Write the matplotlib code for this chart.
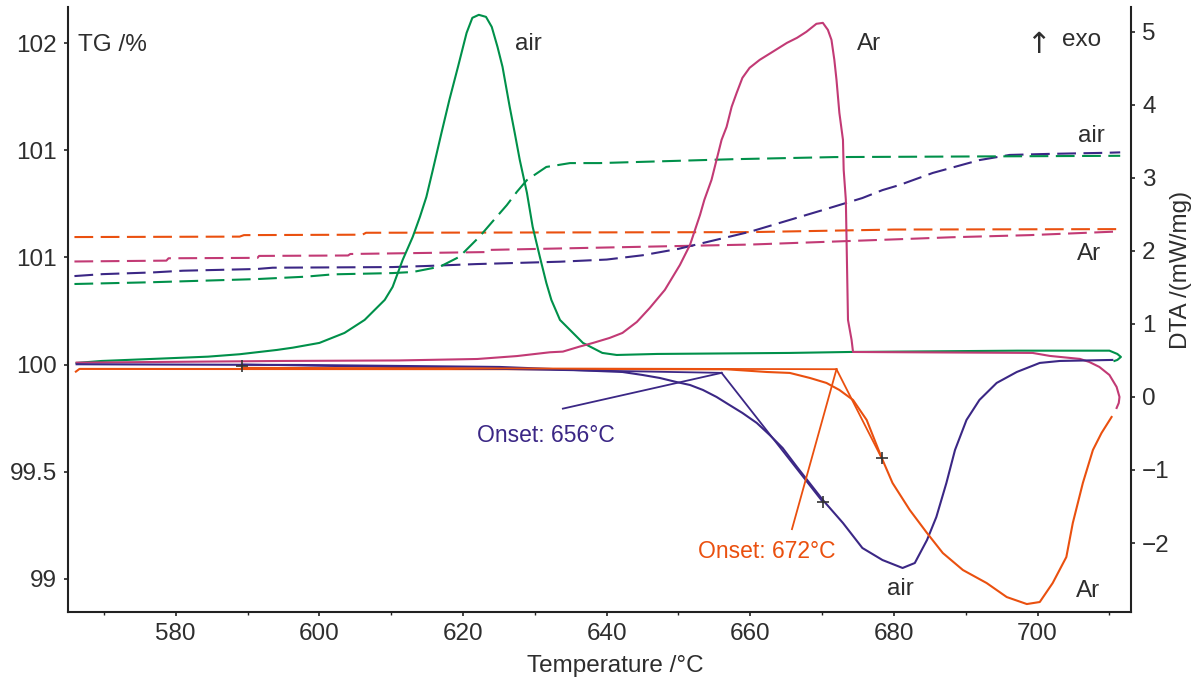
import matplotlib
matplotlib.use("Agg")
import matplotlib.pyplot as plt
from matplotlib.ticker import MultipleLocator

plt.rcParams['font.family'] = ['Liberation Sans', 'DejaVu Sans']

# colours of the four runs
c_green = '#00904a'
c_purple = '#3b2785'
c_magenta = '#c23a75'
c_orange = '#ea500f'
c_text = '#2e2e2e'

# ---- TG curves (left axis, %) ----
tg_green_T = [565.9, 576.4, 591.3, 598.0, 601.9, 610.2, 613.0, 616.8, 619.5, 622.3, 624.1,
              626.1, 627.5, 628.9, 631.6, 634.9, 639.0, 657.5, 671.7, 711.5]
tg_green = [100.376, 100.384, 100.399, 100.410, 100.421, 100.427, 100.432, 100.457, 100.503,
            100.597, 100.667, 100.744, 100.806, 100.861, 100.922, 100.940, 100.940, 100.958,
            100.968, 100.974]

tg_purple_T = [565.9, 569.8, 576.8, 581.0, 591.3, 593.5, 610.2, 614.9, 621.9, 633.5, 640.0,
               645.0, 650.0, 655.0, 660.0, 665.0, 670.0, 675.6, 678.4, 680.8, 685.4, 691.9,
               696.1, 701.7, 709.6, 711.5]
tg_purple = [100.413, 100.422, 100.430, 100.438, 100.446, 100.452, 100.455, 100.460, 100.469,
             100.480, 100.490, 100.510, 100.540, 100.580, 100.620, 100.670, 100.720, 100.777,
             100.814, 100.838, 100.894, 100.954, 100.978, 100.983, 100.988, 100.990]

tg_magenta_T = [565.9, 578.7, 579.0, 591.4, 591.6, 604.0, 604.3, 623.4, 623.6, 660.0, 680.8,
                688.0, 698.9, 710.5]
tg_magenta = [100.481, 100.485, 100.496, 100.498, 100.507, 100.509, 100.516, 100.525, 100.535,
              100.560, 100.585, 100.594, 100.604, 100.620]

tg_orange_T = [565.9, 588.9, 589.5, 606.0, 606.5, 660.0, 680.0, 711.5]
tg_orange = [100.595, 100.597, 100.604, 100.606, 100.615, 100.618, 100.630, 100.632]

# ---- DTA curves (right axis, mW/mg) ----
dta_green_T = [566.2, 569.7, 577.8, 584.5, 588.9, 594.1, 596.3, 600.0, 603.5, 606.3, 609.1,
               610.2, 611.6, 613.0, 614.0, 614.9, 615.8, 617.0, 618.1, 619.3, 620.5, 621.3,
               622.2, 623.2, 624.0, 624.8, 625.5, 626.5, 627.2, 627.9, 628.9, 629.7, 630.7,
               631.6, 632.3, 633.5, 636.7, 639.4, 641.4, 647.0, 665.5, 673.8, 697.2, 710.0,
               711.1, 711.6, 711.1, 710.7]
dta_green = [0.466, 0.493, 0.525, 0.552, 0.585, 0.644, 0.675, 0.740, 0.877, 1.055, 1.329,
             1.507, 1.877, 2.192, 2.466, 2.740, 3.110, 3.616, 4.068, 4.521, 4.986, 5.192,
             5.233, 5.205, 5.068, 4.795, 4.521, 3.973, 3.616, 3.247, 2.795, 2.329, 1.918,
             1.562, 1.329, 1.055, 0.740, 0.603, 0.575, 0.589, 0.603, 0.616, 0.634, 0.634,
             0.589, 0.548, 0.507, 0.493]

dta_magenta_T = [566.2, 594.9, 611.0, 622.0, 627.5, 632.1, 633.9, 636.2, 638.1, 640.4, 642.2,
                 644.2, 646.0, 648.1, 650.2, 651.6, 653.0, 653.6, 654.6, 655.3, 656.0, 656.7,
                 657.4, 658.1, 658.9, 659.9, 661.3, 663.1, 665.1, 666.5, 667.8, 669.2, 670.1,
                 670.8, 671.3, 671.7, 672.0, 672.4, 672.9, 673.0, 673.3, 673.6, 674.1, 674.3,
                 699.3, 701.7, 705.9, 707.2, 708.6, 710.0, 711.0, 711.4, 711.3, 711.0]
dta_magenta = [0.470, 0.493, 0.50, 0.52, 0.56, 0.612, 0.621, 0.689, 0.740, 0.808, 0.877,
               1.027, 1.219, 1.466, 1.808, 2.082, 2.493, 2.699, 2.973, 3.247, 3.521, 3.699,
               3.973, 4.164, 4.370, 4.507, 4.616, 4.726, 4.849, 4.918, 5.000, 5.110, 5.123,
               5.027, 4.890, 4.616, 4.342, 3.890, 3.521, 3.110, 2.699, 1.055, 0.781, 0.616,
               0.603, 0.562, 0.521, 0.479, 0.411, 0.301, 0.137, 0.0, -0.082, -0.151]

dta_purple_T = [566.2, 597.3, 625.1, 632.1, 638.6, 642.2, 645.0, 647.4, 649.7, 651.6, 653.4,
                655.3, 657.1, 658.9, 660.9, 662.7, 664.5, 666.5, 670.1, 672.9, 675.6, 678.4,
                681.2, 682.9, 684.6, 685.9, 687.3, 688.5, 690.1, 691.9, 694.3, 697.1, 700.3,
                703.1, 710.4]
dta_purple = [0.448, 0.438, 0.411, 0.384, 0.356, 0.342, 0.301, 0.260, 0.205, 0.164, 0.096,
              0.0, -0.110, -0.219, -0.356, -0.521, -0.699, -0.959, -1.411, -1.726, -2.068,
              -2.233, -2.342, -2.274, -1.959, -1.644, -1.178, -0.726, -0.315, -0.041, 0.192,
              0.342, 0.466, 0.493, 0.507]

dta_orange_T = [566.1, 566.6, 656.7, 662.3, 665.5, 668.3, 670.6, 672.4, 674.3, 676.2, 678.3,
                679.8, 682.2, 684.6, 686.8, 689.6, 692.9, 695.7, 698.5, 700.3, 702.1, 704.0,
                704.9, 706.3, 707.7, 708.9, 710.3]
dta_orange = [0.347, 0.384, 0.379, 0.342, 0.329, 0.260, 0.192, 0.096, -0.041, -0.315, -0.836,
              -1.178, -1.548, -1.863, -2.137, -2.370, -2.548, -2.740, -2.836, -2.808, -2.548,
              -2.192, -1.726, -1.178, -0.726, -0.493, -0.274]

# onset evaluation (baseline / tangent construction)
onset_air = 656
onset_ar = 672
base_start_T = 589.2
base_air = [0.445, 0.33]
base_ar = [0.40, 0.38]
tangent_air_end = [670.1, -1.44]
tangent_ar_end = [678.3, -0.84]
leader_air_start = [633.9, -0.16]
leader_ar_start = [665.8, -1.81]

# axis ticks
x_ticks = [580, 600, 620, 640, 660, 680, 700]
tg_ticks = [99.0, 99.5, 100.0, 100.5, 101.0, 101.5]
tg_ticklabels = ['99', '99.5', '100', '101', '101', '102']
dta_ticks = [-2, -1, 0, 1, 2, 3, 4, 5]

fig = plt.figure(figsize=(12.01, 6.81), dpi=100)
ax = fig.add_axes([0.0566, 0.1013, 0.8851, 0.8884])
ax2 = ax.twinx()

dash = (0, (9, 3.6))
lw = 1.5
ax.plot(tg_orange_T, tg_orange, color=c_orange, lw=lw, linestyle=dash)
ax.plot(tg_magenta_T, tg_magenta, color=c_magenta, lw=lw, linestyle=dash)
ax.plot(tg_purple_T, tg_purple, color=c_purple, lw=lw, linestyle=dash)
ax.plot(tg_green_T, tg_green, color=c_green, lw=lw, linestyle=dash)

ax2.plot(dta_green_T, dta_green, color=c_green, lw=lw)
ax2.plot(dta_magenta_T, dta_magenta, color=c_magenta, lw=lw)
ax2.plot(dta_purple_T, dta_purple, color=c_purple, lw=lw)
ax2.plot(dta_orange_T, dta_orange, color=c_orange, lw=lw)

# onset lines
ax2.plot([base_start_T, onset_air], base_air, color=c_purple, lw=1.3)
ax2.plot([onset_air, tangent_air_end[0]], [base_air[1], tangent_air_end[1]], color=c_purple, lw=1.3)
ax2.plot([leader_air_start[0], onset_air], [leader_air_start[1], base_air[1]], color=c_purple, lw=1.3)
ax2.plot([base_start_T, onset_ar], base_ar, color=c_orange, lw=1.3)
ax2.plot([onset_ar, tangent_ar_end[0]], [base_ar[1], tangent_ar_end[1]], color=c_orange, lw=1.3)
ax2.plot([leader_ar_start[0], onset_ar], [leader_ar_start[1], base_ar[1]], color=c_orange, lw=1.3)
ax2.plot([base_start_T, tangent_air_end[0], tangent_ar_end[0]],
         [0.42, tangent_air_end[1], tangent_ar_end[1]],
         linestyle='none', marker='+', markersize=9, markeredgewidth=1.2, color='#333333')

# axes
ax.set_xlim(565, 713)
ax.set_ylim(98.846, 101.668)
ax2.set_ylim(-2.945, 5.34)
ax.set_xticks(x_ticks)
ax.xaxis.set_minor_locator(MultipleLocator(10))
ax.set_yticks(tg_ticks)
ax.set_yticklabels(tg_ticklabels)
ax2.set_yticks(dta_ticks)

for a in (ax, ax2):
    for s in a.spines.values():
        s.set_linewidth(1.5)
        s.set_color('#222222')
    a.spines['top'].set_visible(False)
    a.tick_params(which='major', direction='out', length=3, width=1.2, pad=5,
                  labelsize=17.5, colors='#222222', labelcolor=c_text)
    a.tick_params(which='minor', direction='out', length=2, width=1.0, colors='#222222')
ax.spines['right'].set_visible(False)
ax2.spines['left'].set_visible(False)
ax2.spines['bottom'].set_visible(False)

ax.set_xlabel('Temperature /°C', fontsize=17.5, color=c_text)
ax.xaxis.set_label_coords(0.515, -0.071)
ax2.set_ylabel('DTA /(mW/mg)', fontsize=17.5, color=c_text)
ax2.yaxis.set_label_coords(1.037, 0.565)

# texts
ax.text(0.0094, 0.927, 'TG /%', transform=ax.transAxes, fontsize=17.5, color=c_text, va='baseline')
ax.text(0.9130, 0.924, '↑', transform=ax.transAxes, fontsize=21, color=c_text, va='baseline',
        ha='center', family='DejaVu Sans')
ax.text(0.9350, 0.9355, 'exo', transform=ax.transAxes, fontsize=17.5, color=c_text, va='baseline')
ax2.text(627.2, 4.753, 'air', fontsize=17.5, color=c_text, va='baseline')
ax2.text(674.9, 4.753, 'Ar', fontsize=17.5, color=c_text, va='baseline')
ax.text(709.3, 101.038, 'air', fontsize=17.5, color=c_text, va='baseline', ha='right')
ax.text(708.9, 100.488, 'Ar', fontsize=17.5, color=c_text, va='baseline', ha='right')
ax2.text(679.0, -2.712, 'air', fontsize=17.5, color=c_text, va='baseline')
ax2.text(705.3, -2.740, 'Ar', fontsize=17.5, color=c_text, va='baseline')
ax2.text(641.1, -0.616, f'Onset: {onset_air}°C', fontsize=16.5, color=c_purple,
         va='baseline', ha='right')
ax2.text(652.7, -2.205, f'Onset: {onset_ar}°C', fontsize=16.5, color=c_orange, va='baseline')

fig.savefig('out.png', dpi=100)
